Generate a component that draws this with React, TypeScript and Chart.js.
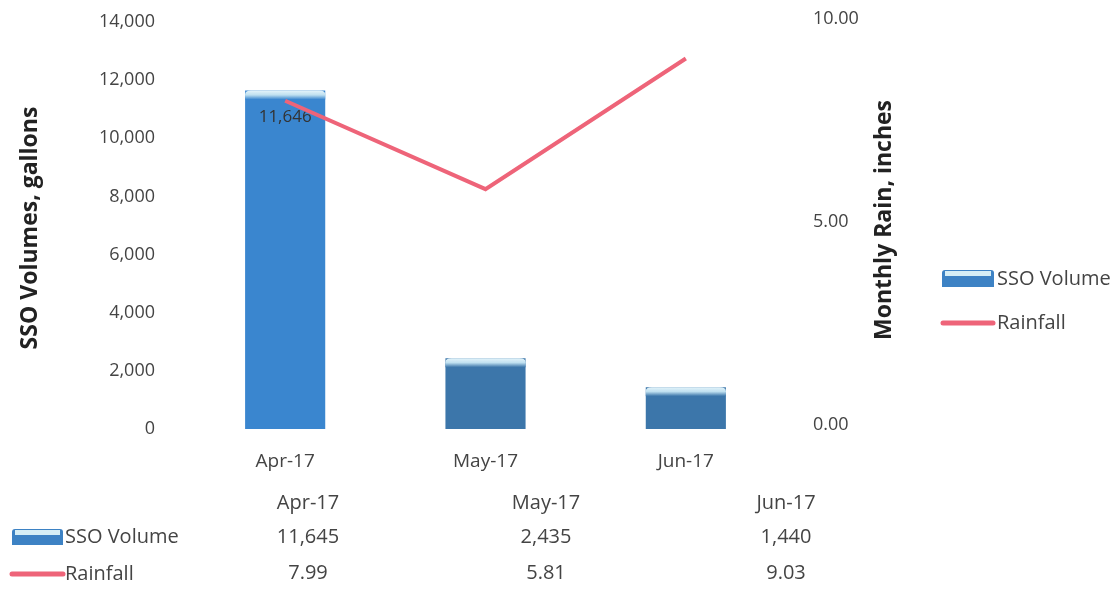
import React, { useEffect, useRef } from "react";
import { Chart, registerables } from "chart.js";

Chart.register(...registerables);

const categories = ["Apr-17", "May-17", "Jun-17"];
const ssoVolume = [11645, 2435, 1440];
const rainfall = [7.99, 5.81, 9.03];
const barDataLabels = ["11,646", "", ""];
const leftAxisTitle = "SSO Volumes, gallons";
const rightAxisTitle = "Monthly Rain, inches";
const seriesNames = ["SSO Volume", "Rainfall"];
const rainTicks = [0, 5, 10];

const FONT = "'Open Sans', 'Liberation Sans', sans-serif";
const TEXT = "#444444";
const BAR_COLORS = ["#3A86CF", "#3C76AA", "#3C76AA"];
const LINE_COLOR = "#EE6479";

function fmtInt(v: number) {
  return Math.round(v).toLocaleString("en-US");
}

function drawBarIcon(ctx: CanvasRenderingContext2D, x: number, y: number, w: number, h: number) {
  ctx.save();
  ctx.fillStyle = "#3D82C4";
  ctx.beginPath();
  const r = 3;
  ctx.moveTo(x + r, y);
  ctx.lineTo(x + w - r, y);
  ctx.quadraticCurveTo(x + w, y, x + w, y + r);
  ctx.lineTo(x + w, y + h);
  ctx.lineTo(x, y + h);
  ctx.lineTo(x, y + r);
  ctx.quadraticCurveTo(x, y, x + r, y);
  ctx.fill();
  ctx.fillStyle = "#D6EEF6";
  ctx.fillRect(x + 3, y + 1, w - 6, 5);
  ctx.restore();
}

function drawLineIcon(ctx: CanvasRenderingContext2D, x: number, y: number, w: number) {
  ctx.save();
  ctx.strokeStyle = LINE_COLOR;
  ctx.lineWidth = 5;
  ctx.lineCap = "round";
  ctx.beginPath();
  ctx.moveTo(x, y);
  ctx.lineTo(x + w, y);
  ctx.stroke();
  ctx.restore();
}

const decorPlugin = {
  id: "decor",
  afterDatasetDraw(chart: any, args: any) {
    if (args.index !== 0) return;
    const ctx: CanvasRenderingContext2D = chart.ctx;
    const meta = chart.getDatasetMeta(0);
    meta.data.forEach((bar: any, i: number) => {
      const { x, y, width } = bar;
      const left = x - width / 2;
      ctx.save();
      const g = ctx.createLinearGradient(0, y, 0, y + 9);
      g.addColorStop(0, "#E4F4FA");
      g.addColorStop(0.5, "#BFE0F0");
      g.addColorStop(1, BAR_COLORS[i]);
      ctx.fillStyle = g;
      ctx.beginPath();
      ctx.moveTo(left, y + 9);
      ctx.lineTo(left, y + 4);
      ctx.quadraticCurveTo(left, y, left + 6, y);
      ctx.lineTo(left + width - 6, y);
      ctx.quadraticCurveTo(left + width, y, left + width, y + 4);
      ctx.lineTo(left + width, y + 9);
      ctx.closePath();
      ctx.fill();
      ctx.restore();
      const label = barDataLabels[i];
      if (label) {
        ctx.save();
        ctx.font = `17px ${FONT}`;
        ctx.fillStyle = "#333333";
        ctx.textAlign = "center";
        ctx.textBaseline = "middle";
        ctx.fillText(label, x, y + 27);
        ctx.restore();
      }
    });
  },
  afterDraw(chart: any) {
    const ctx: CanvasRenderingContext2D = chart.ctx;
    ctx.save();
    // axis titles
    ctx.font = `bold 23px ${FONT}`;
    ctx.fillStyle = "#222222";
    ctx.textAlign = "center";
    ctx.textBaseline = "middle";
    ctx.save();
    ctx.translate(30, 228);
    ctx.rotate(-Math.PI / 2);
    ctx.fillText(leftAxisTitle, 0, 0);
    ctx.restore();
    ctx.save();
    ctx.translate(884, 220);
    ctx.rotate(-Math.PI / 2);
    ctx.fillText(rightAxisTitle, 0, 0);
    ctx.restore();

    // right legend
    ctx.font = `20px ${FONT}`;
    ctx.fillStyle = TEXT;
    ctx.textAlign = "left";
    drawBarIcon(ctx, 942, 270, 52, 17);
    ctx.fillText(seriesNames[0], 997, 279);
    drawLineIcon(ctx, 943, 323, 50);
    ctx.fillStyle = TEXT;
    ctx.fillText(seriesNames[1], 997, 323);

    // data table
    const cols = [308, 546, 786];
    ctx.font = `20px ${FONT}`;
    ctx.textAlign = "center";
    categories.forEach((c, i) => ctx.fillText(c, cols[i], 503));
    ssoVolume.forEach((v, i) => ctx.fillText(fmtInt(v), cols[i], 537));
    rainfall.forEach((v, i) => ctx.fillText(v.toFixed(2), cols[i], 573));
    ctx.textAlign = "left";
    drawBarIcon(ctx, 12, 529, 51, 16);
    ctx.fillStyle = TEXT;
    ctx.fillText(seriesNames[0], 65, 537);
    drawLineIcon(ctx, 12, 574, 51);
    ctx.fillStyle = TEXT;
    ctx.fillText(seriesNames[1], 65, 574);
    ctx.restore();
  },
};

export default function App() {
  const ref = useRef<HTMLCanvasElement | null>(null);
  useEffect(() => {
    if (!ref.current) return;
    const chart = new Chart(ref.current, {
      type: "bar",
      data: {
        labels: categories,
        datasets: [
          {
            type: "bar",
            label: seriesNames[0],
            data: ssoVolume,
            backgroundColor: BAR_COLORS,
            borderWidth: 0,
            barPercentage: 0.4,
            categoryPercentage: 1,
            yAxisID: "y",
            order: 2,
          },
          {
            type: "line",
            label: seriesNames[1],
            data: rainfall,
            borderColor: LINE_COLOR,
            backgroundColor: LINE_COLOR,
            borderWidth: 4,
            pointRadius: 0,
            tension: 0,
            yAxisID: "y1",
            order: 1,
          } as any,
        ],
      },
      options: {
        responsive: false,
        animation: false,
        devicePixelRatio: 1,
        layout: { padding: { top: 22, right: 253, bottom: 110, left: 0 } },
        plugins: {
          legend: { display: false },
          tooltip: { enabled: false },
        },
        scales: {
          x: {
            grid: { display: false },
            border: { display: false },
            ticks: { color: TEXT, font: { size: 19, family: FONT }, padding: 13 },
            afterFit: (s: any) => {
              s.height = 50;
            },
          },
          y: {
            position: "left",
            min: 0,
            max: 14000,
            grid: { display: false },
            border: { display: false },
            ticks: {
              stepSize: 2000,
              color: TEXT,
              font: { size: 18, family: FONT },
              padding: 22,
              callback: (v: any) => fmtInt(Number(v)),
            },
            afterFit: (s: any) => {
              s.width = 185;
              s.paddingTop = 0;
              s.paddingBottom = 0;
            },
          },
          y1: {
            position: "right",
            min: -0.1,
            max: 9.93,
            grid: { display: false },
            border: { display: false },
            afterBuildTicks: (s: any) => {
              s.ticks = rainTicks.map((v) => ({ value: v }));
            },
            ticks: {
              color: TEXT,
              font: { size: 18, family: FONT },
              padding: 19,
              callback: (v: any) => Number(v).toFixed(2),
            },
            afterFit: (s: any) => {
              s.width = 80;
              s.paddingTop = 0;
              s.paddingBottom = 0;
            },
          },
        },
      } as any,
      plugins: [decorPlugin],
    });
    return () => chart.destroy();
  }, []);
  return (
    <div style={{ position: "fixed", left: 0, top: 0, width: 1119, height: 589, background: "#ffffff" }}>
      <canvas ref={ref} width={1119} height={589} />
    </div>
  );
}
